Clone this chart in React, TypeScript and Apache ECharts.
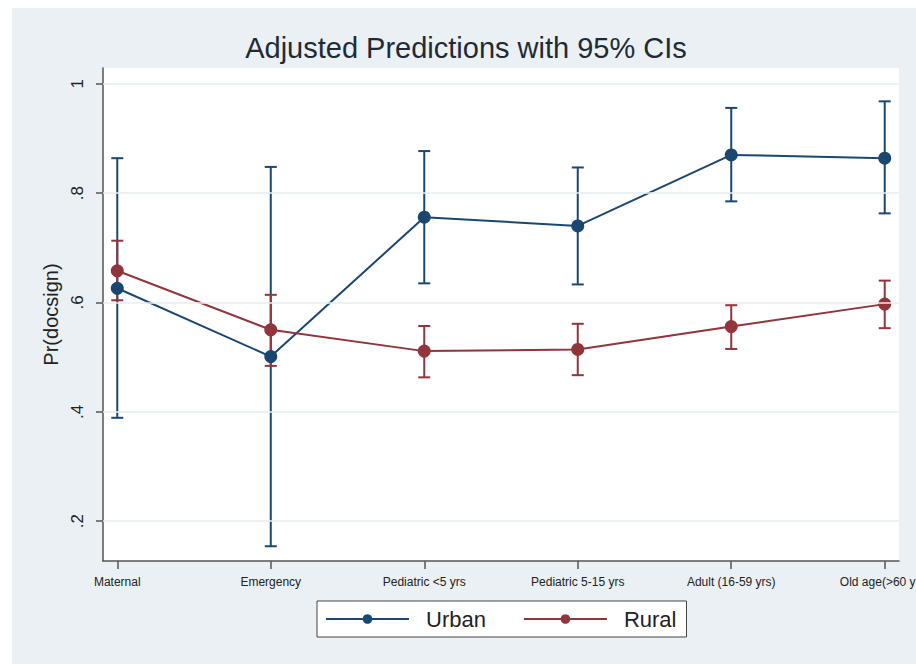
import React, { useEffect, useRef } from "react";
import * as echarts from "echarts";

const categories = [
  "Maternal",
  "Emergency",
  "Pediatric <5 yrs",
  "Pediatric 5-15 yrs",
  "Adult (16-59 yrs)",
  "Old age(>60 yrs)",
];
const urbanMean = [0.626, 0.501, 0.756, 0.74, 0.87, 0.864];
const urbanLow = [0.389, 0.154, 0.635, 0.633, 0.785, 0.763];
const urbanHigh = [0.864, 0.848, 0.877, 0.847, 0.956, 0.968];
const ruralMean = [0.658, 0.55, 0.511, 0.514, 0.556, 0.597];
const ruralLow = [0.604, 0.484, 0.463, 0.467, 0.515, 0.553];
const ruralHigh = [0.713, 0.614, 0.557, 0.561, 0.595, 0.64];
const yTicks = [0.2, 0.4, 0.6, 0.8, 1];
const seriesNames = ["Urban", "Rural"];

const URBAN = "#1A476F";
const RURAL = "#90353B";
const FONT = "Liberation Sans, Arial, sans-serif";

function ciSeries(name: string, color: string, low: number[], high: number[]) {
  return {
    type: "custom",
    name,
    z: 3,
    data: low.map((l, i) => [i, l, high[i]]),
    encode: { x: 0, y: [1, 2] },
    renderItem: (params: any, api: any) => {
      const x = api.value(0);
      const p1 = api.coord([x, api.value(1)]);
      const p2 = api.coord([x, api.value(2)]);
      const w = 6;
      const st = { stroke: color, lineWidth: 2 };
      return {
        type: "group",
        children: [
          { type: "line", shape: { x1: p1[0], y1: p1[1], x2: p2[0], y2: p2[1] }, style: st },
          { type: "line", shape: { x1: p1[0] - w, y1: p1[1], x2: p1[0] + w, y2: p1[1] }, style: st },
          { type: "line", shape: { x1: p2[0] - w, y1: p2[1], x2: p2[0] + w, y2: p2[1] }, style: st },
        ],
      };
    },
  };
}

function lineSeries(name: string, color: string, values: number[]) {
  return {
    type: "line",
    name,
    z: 4,
    data: values.map((v, i) => [i, v]),
    symbol: "circle",
    symbolSize: 13,
    lineStyle: { color, width: 2 },
    itemStyle: { color },
  };
}

export default function App() {
  const ref = useRef<HTMLDivElement>(null);
  useEffect(() => {
    if (!ref.current) return;
    const chart = echarts.init(ref.current, undefined, { renderer: "svg" });
    const catIdx = categories.map((_, i) => i);
    chart.setOption({
      animation: false,
      backgroundColor: "#EAF0F3",
      textStyle: { fontFamily: FONT },
      graphic: [
        { type: "rect", left: 0, top: 0, shape: { width: 12, height: 664 }, style: { fill: "#ffffff" } },
        { type: "rect", left: 0, top: 0, shape: { width: 916, height: 8 }, style: { fill: "#ffffff" } },
        {
          type: "text",
          x: 466,
          y: 48,
          style: {
            text: "Adjusted Predictions with 95% CIs",
            textAlign: "center",
            textVerticalAlign: "middle",
            font: `29px ${FONT}`,
            fill: "#1f2a36",
          },
        },
      ],
      grid: {
        left: 103,
        right: 17,
        top: 68,
        bottom: 103,
        show: true,
        backgroundColor: "#ffffff",
        borderWidth: 0,
        outerBoundsMode: "none",
        containLabel: false,
      },
      legend: {
        data: seriesNames,
        left: 317,
        top: 601,
        orient: "horizontal",
        backgroundColor: "#ffffff",
        borderColor: "#444",
        borderWidth: 1,
        borderRadius: 0,
        padding: [7, 10, 7, 8],
        itemWidth: 83,
        itemHeight: 12,
        itemGap: 37,
        textStyle: { fontSize: 22, color: "#222", padding: [0, 0, 0, 12], fontFamily: FONT },
      },
      xAxis: {
        type: "value",
        min: -0.093,
        max: 5.093,
        splitLine: { show: false },
        axisLine: { show: true, onZero: false, lineStyle: { color: "#555", width: 1.5 } },
        axisTick: { show: true, customValues: catIdx, length: 8, lineStyle: { color: "#555", width: 1.5 } },
        axisLabel: {
          customValues: catIdx,
          formatter: (v: number) => categories[Math.round(v)] ?? "",
          fontSize: 12,
          color: "#222",
          margin: 15,
          showMinLabel: true,
          showMaxLabel: true,
          hideOverlap: false,
        },
      },
      yAxis: {
        type: "value",
        min: 0.127,
        max: 1.029,
        name: "Pr(docsign)",
        nameLocation: "middle",
        nameGap: 38,
        nameRotate: 90,
        nameTextStyle: { fontSize: 20, color: "#222", fontFamily: FONT },
        splitLine: { show: false },
        axisLine: { show: true, onZero: false, lineStyle: { color: "#555", width: 1.5 } },
        axisTick: { show: true, customValues: yTicks, length: 7, lineStyle: { color: "#555", width: 1.5 } },
        axisLabel: {
          customValues: yTicks,
          rotate: 90,
          fontSize: 17,
          color: "#222",
          margin: 17,
          formatter: (v: number) => (Math.abs(v - 1) < 1e-9 ? "1" : v.toFixed(1).replace(/^0/, "")),
        },
      },
      series: [
        {
          type: "line",
          name: "grid",
          data: [],
          z: 1,
          silent: true,
          markLine: {
            silent: true,
            symbol: ["none", "none"],
            label: { show: false },
            lineStyle: { color: "#E6EDF0", width: 1.5, type: "solid" },
            data: yTicks.map((v) => ({ yAxis: v })),
          },
        },
        ciSeries("Urban CI", URBAN, urbanLow, urbanHigh),
        ciSeries("Rural CI", RURAL, ruralLow, ruralHigh),
        lineSeries(seriesNames[0], URBAN, urbanMean),
        lineSeries(seriesNames[1], RURAL, ruralMean),
      ],
    });
    return () => chart.dispose();
  }, []);
  return (
    <div
      ref={ref}
      style={{ position: "absolute", left: 0, top: 0, width: 916, height: 664 }}
    />
  );
}
